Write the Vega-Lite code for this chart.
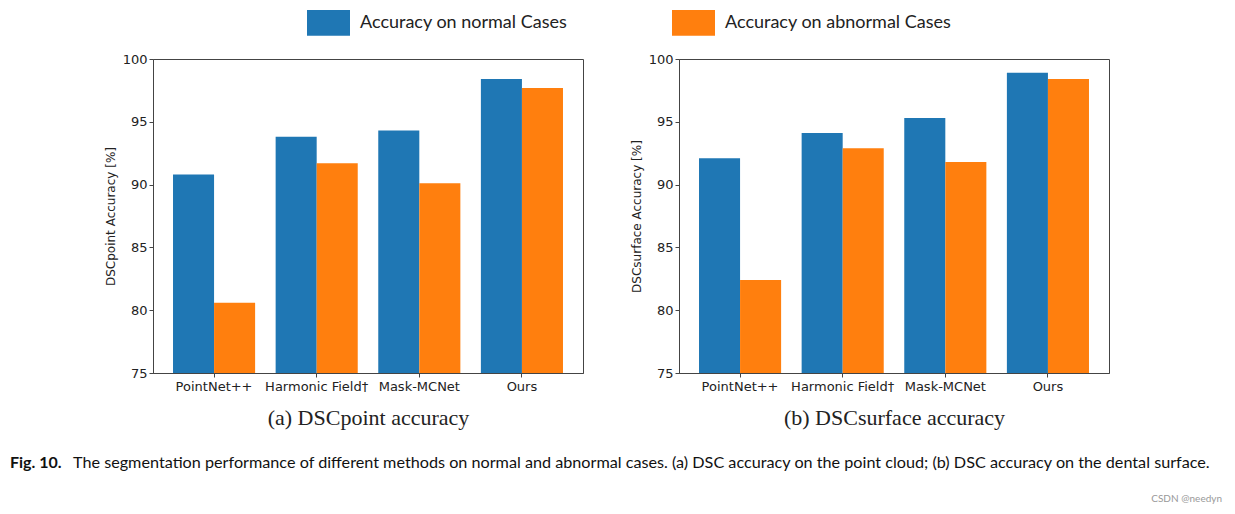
{
  "$schema": "https://vega.github.io/schema/vega-lite/v6.json",
  "background": "white",
  "padding": {"left": 10, "top": 1, "right": 5, "bottom": 5},
  "config": {
    "view": {"stroke": "#444", "strokeWidth": 1},
    "axis": {"labelFont": "DejaVu Sans", "labelFontSize": 13, "labelColor": "#222", "tickColor": "#444", "domainColor": "#444", "tickSize": 4, "grid": false, "titleFontWeight": "normal", "titleColor": "#222"}
  },
  "data": {"values": [
    {"panel": "a", "method": "PointNet++", "case": "Accuracy on normal Cases", "value": 90.8},
    {"panel": "a", "method": "PointNet++", "case": "Accuracy on abnormal Cases", "value": 80.6},
    {"panel": "a", "method": "Harmonic Field†", "case": "Accuracy on normal Cases", "value": 93.8},
    {"panel": "a", "method": "Harmonic Field†", "case": "Accuracy on abnormal Cases", "value": 91.7},
    {"panel": "a", "method": "Mask-MCNet", "case": "Accuracy on normal Cases", "value": 94.3},
    {"panel": "a", "method": "Mask-MCNet", "case": "Accuracy on abnormal Cases", "value": 90.1},
    {"panel": "a", "method": "Ours", "case": "Accuracy on normal Cases", "value": 98.4},
    {"panel": "a", "method": "Ours", "case": "Accuracy on abnormal Cases", "value": 97.7},
    {"panel": "b", "method": "PointNet++", "case": "Accuracy on normal Cases", "value": 92.1},
    {"panel": "b", "method": "PointNet++", "case": "Accuracy on abnormal Cases", "value": 82.4},
    {"panel": "b", "method": "Harmonic Field†", "case": "Accuracy on normal Cases", "value": 94.1},
    {"panel": "b", "method": "Harmonic Field†", "case": "Accuracy on abnormal Cases", "value": 92.9},
    {"panel": "b", "method": "Mask-MCNet", "case": "Accuracy on normal Cases", "value": 95.3},
    {"panel": "b", "method": "Mask-MCNet", "case": "Accuracy on abnormal Cases", "value": 91.8},
    {"panel": "b", "method": "Ours", "case": "Accuracy on normal Cases", "value": 98.9},
    {"panel": "b", "method": "Ours", "case": "Accuracy on abnormal Cases", "value": 98.4}
  ]},
  "vconcat": [
    {
      "hconcat": [
        {
          "width": 48, "height": 314,
          "data": {"values": []},
          "view": {"stroke": null},
          "mark": {"type": "text"},
          "encoding": {}
        },
        {
          "width": 430, "height": 314,
          "transform": [{"filter": "datum.panel == 'a'"}],
          "mark": {"type": "bar", "clip": true},
          "encoding": {
            "x": {"field": "method", "type": "nominal", "sort": ["PointNet++", "Harmonic Field†", "Mask-MCNet", "Ours"],
                  "scale": {"paddingInner": 0.2, "paddingOuter": 0.195},
                  "axis": {"labelAngle": 0, "labelPadding": 3, "title": "(a) DSCpoint accuracy", "titleFont": "Liberation Serif", "titleFontSize": 22, "titlePadding": 14}},
            "xOffset": {"field": "case", "type": "nominal", "sort": ["Accuracy on normal Cases", "Accuracy on abnormal Cases"], "scale": {"paddingInner": 0, "paddingOuter": 0}},
            "y": {"field": "value", "type": "quantitative", "scale": {"domain": [75, 100], "zero": false, "nice": false},
                  "axis": {"values": [75, 80, 85, 90, 95, 100], "title": "DSCpoint Accuracy [%]", "titleFont": "DejaVu Sans", "titleFontSize": 12, "titlePadding": 5}},
            "color": {"field": "case", "type": "nominal", "sort": ["Accuracy on normal Cases", "Accuracy on abnormal Cases"],
                      "scale": {"range": ["#1f77b4", "#ff7f0e"]},
                      "legend": {"orient": "none", "legendX": 297, "legendY": -58, "direction": "horizontal", "title": null,
                                 "labelFont": "Lato", "labelFontSize": 18, "labelColor": "#222", "labelLimit": 0, "symbolType": "M-1,-0.6H1V0.6H-1Z",
                                 "symbolSize": 1849, "symbolStrokeWidth": 0, "symbolOpacity": 1, "labelOffset": 10, "columnPadding": 104, "padding": 0}}
          }
        },
        {
          "width": 430, "height": 314,
          "transform": [{"filter": "datum.panel == 'b'"}],
          "mark": {"type": "bar", "clip": true},
          "encoding": {
            "x": {"field": "method", "type": "nominal", "sort": ["PointNet++", "Harmonic Field†", "Mask-MCNet", "Ours"],
                  "scale": {"paddingInner": 0.2, "paddingOuter": 0.195},
                  "axis": {"labelAngle": 0, "labelPadding": 3, "title": "(b) DSCsurface accuracy", "titleFont": "Liberation Serif", "titleFontSize": 22, "titlePadding": 14}},
            "xOffset": {"field": "case", "type": "nominal", "sort": ["Accuracy on normal Cases", "Accuracy on abnormal Cases"], "scale": {"paddingInner": 0, "paddingOuter": 0}},
            "y": {"field": "value", "type": "quantitative", "scale": {"domain": [75, 100], "zero": false, "nice": false},
                  "axis": {"values": [75, 80, 85, 90, 95, 100], "title": "DSCsurface Accuracy [%]", "titleFont": "DejaVu Sans", "titleFontSize": 12, "titlePadding": 5}},
            "color": {"field": "case", "type": "nominal", "sort": ["Accuracy on normal Cases", "Accuracy on abnormal Cases"],
                      "scale": {"range": ["#1f77b4", "#ff7f0e"]},
                      "legend": {"orient": "none", "legendX": 297, "legendY": -58, "direction": "horizontal", "title": null,
                                 "labelFont": "Lato", "labelFontSize": 18, "labelColor": "#222", "labelLimit": 0, "symbolType": "M-1,-0.6H1V0.6H-1Z",
                                 "symbolSize": 1849, "symbolStrokeWidth": 0, "symbolOpacity": 1, "labelOffset": 10, "columnPadding": 104, "padding": 0}}
          }
        }
      ],
      "spacing": 45
    },
    {
      "width": 1212, "height": 36,
      "view": {"stroke": null},
      "data": {"values": [
        {"t": "Fig. 10.", "p": 0, "q": 0, "k": "head"},
        {"t": "The segmentation performance of different methods on normal and abnormal cases. (a) DSC accuracy on the point cloud; (b) DSC accuracy on the dental surface.", "p": 0, "q": 0, "k": "body"},
        {"t": "CSDN @needyn", "p": 1, "q": 1, "k": "mark"}
      ]},
      "encoding": {
        "x": {"field": "p", "type": "quantitative", "scale": {"domain": [0, 1]}, "axis": null},
        "y": {"field": "q", "type": "quantitative", "scale": {"domain": [0, 1], "reverse": true}, "axis": null},
        "text": {"field": "t"}
      },
      "layer": [
        {"transform": [{"filter": "datum.k == 'head'"}],
         "mark": {"type": "text", "align": "left", "baseline": "middle", "font": "Lato", "fontSize": 16, "fontWeight": "bold", "color": "#111"}},
        {"transform": [{"filter": "datum.k == 'body'"}],
         "mark": {"type": "text", "align": "left", "baseline": "middle", "dx": 63, "font": "Lato", "fontSize": 16.2, "color": "#111"}},
        {"transform": [{"filter": "datum.k == 'mark'"}],
         "mark": {"type": "text", "align": "right", "baseline": "middle", "font": "Lato", "fontSize": 10, "color": "#999"}}
      ]
    }
  ],
  "spacing": 26
}
